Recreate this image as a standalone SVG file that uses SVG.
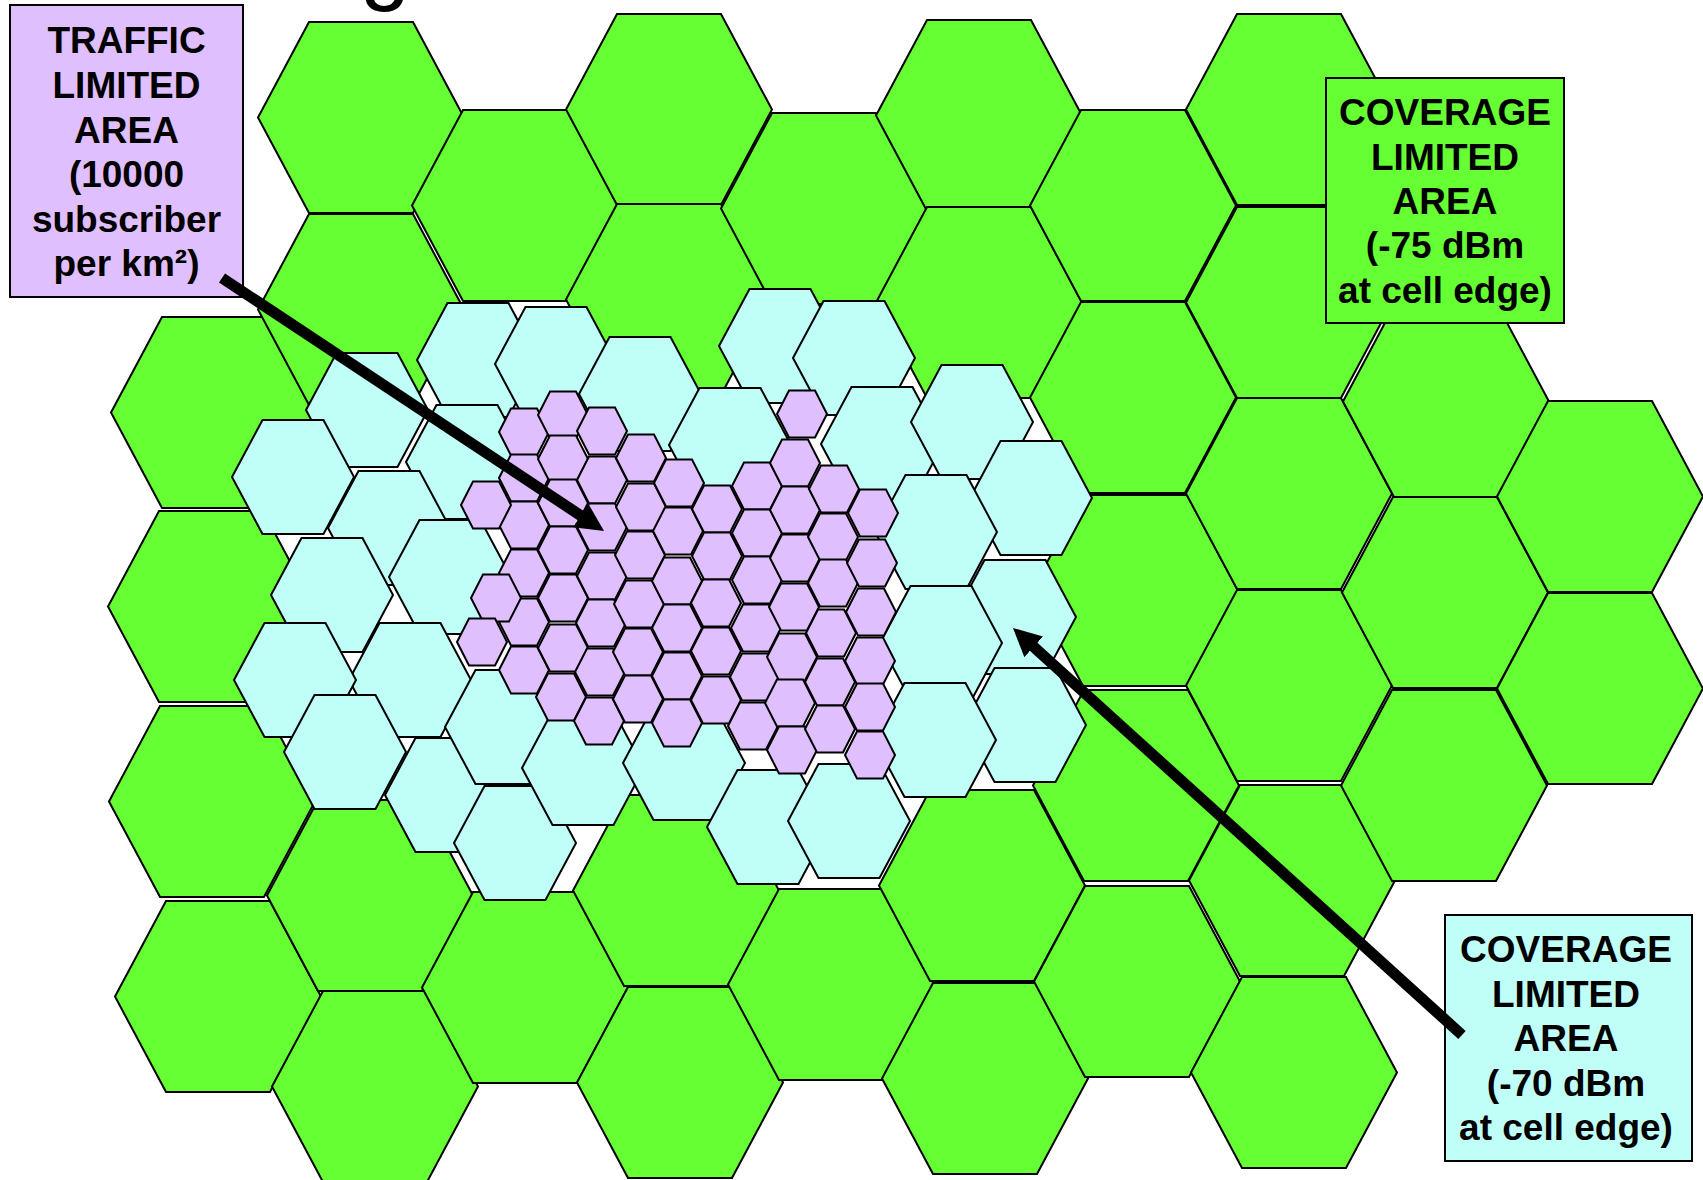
<svg xmlns="http://www.w3.org/2000/svg" width="1703" height="1180" viewBox="0 0 1703 1180">
<style>
.hg{fill:#66FF33;stroke:#000;stroke-width:2;stroke-linejoin:miter}
.hc{fill:#BFFFF8;stroke:#000;stroke-width:2;stroke-linejoin:miter}
.hp{fill:#E0BFFF;stroke:#000;stroke-width:2;stroke-linejoin:miter}
.box{stroke:#000;stroke-width:2}
.lbl{font-family:"Liberation Sans",Arial,sans-serif;font-weight:bold;font-size:37px;text-anchor:middle;fill:#000}
.arrow{stroke:#000;stroke-width:11;fill:none;stroke-linecap:butt}
</style>
<defs>
<polygon id="G" class="hg" points="-103,0 -52,-95.5 52,-95.5 103,0 52,95.5 -52,95.5"/>
<polygon id="C" class="hc" points="-61,0 -30.5,-57 30.5,-57 61,0 30.5,57 -30.5,57"/>
<polygon id="P" class="hp" points="-25,0 -13,-23.5 13,-23.5 25,0 13,23.5 -13,23.5"/>
<marker id="ah" markerUnits="userSpaceOnUse" markerWidth="30" markerHeight="28" refX="6" refY="14" orient="auto">
<path d="M0,0 L28,14 L0,28 z" fill="#000"/>
</marker>
</defs>
<rect width="1703" height="1180" fill="#fff"/>
<text x="360" y="-7" font-family="Liberation Sans, Arial, sans-serif" font-size="90" fill="#000">g</text>
<g id="green-cells">
<use href="#G" x="214" y="412.5"/><use href="#G" x="211" y="606.5"/><use href="#G" x="212" y="801.5"/><use href="#G" x="218" y="996.5"/>
<use href="#G" x="361" y="117.5"/><use href="#G" x="361" y="309.5"/><use href="#G" x="370" y="895.5"/><use href="#G" x="375" y="1086.5"/>
<use href="#G" x="515" y="205.5"/><use href="#G" x="525" y="987.5"/>
<use href="#G" x="669" y="109.5"/><use href="#G" x="669" y="299.5"/><use href="#G" x="676" y="890.5"/><use href="#G" x="680" y="1082.5"/>
<use href="#G" x="824" y="208.5"/><use href="#G" x="831" y="984.5"/>
<use href="#G" x="979" y="115.5"/><use href="#G" x="979" y="302.5"/><use href="#G" x="982" y="885.5"/><use href="#G" x="985" y="1078.5"/>
<use href="#G" x="1133" y="205.5"/><use href="#G" x="1133" y="397.5"/><use href="#G" x="1135" y="590.5"/><use href="#G" x="1136" y="785.5"/><use href="#G" x="1137" y="981.5"/>
<use href="#G" x="1289" y="109.5"/><use href="#G" x="1289" y="302.5"/><use href="#G" x="1289" y="493.5"/><use href="#G" x="1289" y="685.5"/><use href="#G" x="1292" y="880.5"/><use href="#G" x="1294" y="1072.5"/>
<use href="#G" x="1446" y="401.5"/><use href="#G" x="1445" y="592.5"/><use href="#G" x="1444" y="785.5"/>
<use href="#G" x="1600" y="496.5"/><use href="#G" x="1600" y="688.5"/>
</g>
<g id="cyan-cells">
<use href="#C" x="367" y="410"/><use href="#C" x="478" y="360"/><use href="#C" x="556" y="364"/><use href="#C" x="640" y="394"/>
<use href="#C" x="780" y="346"/><use href="#C" x="854" y="358"/><use href="#C" x="730" y="445"/><use href="#C" x="882" y="444"/>
<use href="#C" x="972" y="422"/><use href="#C" x="467" y="462"/><use href="#C" x="293" y="477"/><use href="#C" x="389" y="528"/>
<use href="#C" x="450" y="577"/><use href="#C" x="332" y="595"/><use href="#C" x="410" y="680"/><use href="#C" x="295" y="680"/>
<use href="#C" x="1031" y="498"/><use href="#C" x="936" y="532"/><use href="#C" x="1015" y="617"/><use href="#C" x="941" y="643"/>
<use href="#C" x="1025" y="725"/><use href="#C" x="935" y="740"/><use href="#C" x="345" y="752"/><use href="#C" x="446" y="795"/>
<use href="#C" x="506" y="727"/><use href="#C" x="515" y="843"/><use href="#C" x="583" y="768"/><use href="#C" x="684" y="763"/>
<use href="#C" x="768" y="827"/><use href="#C" x="849" y="821"/>
</g>
<g id="purple-cells">
<use href="#P" x="524" y="432"/><use href="#P" x="524" y="478"/><use href="#P" x="524" y="525"/><use href="#P" x="524" y="573"/><use href="#P" x="524" y="622"/><use href="#P" x="524" y="670"/>
<use href="#P" x="563" y="415"/><use href="#P" x="563" y="459"/><use href="#P" x="563" y="503"/><use href="#P" x="563" y="550"/><use href="#P" x="563" y="598"/><use href="#P" x="563" y="648"/><use href="#P" x="561" y="697"/>
<use href="#P" x="602" y="431"/><use href="#P" x="602" y="480"/><use href="#P" x="602" y="527"/><use href="#P" x="602" y="576"/><use href="#P" x="601" y="623"/><use href="#P" x="600" y="672"/><use href="#P" x="599" y="721"/>
<use href="#P" x="641" y="458"/><use href="#P" x="641" y="507"/><use href="#P" x="640" y="555"/><use href="#P" x="639" y="604"/><use href="#P" x="638" y="652"/><use href="#P" x="638" y="699"/>
<use href="#P" x="679" y="483"/><use href="#P" x="678" y="531"/><use href="#P" x="677" y="581"/><use href="#P" x="677" y="628"/><use href="#P" x="677" y="676"/><use href="#P" x="677" y="723"/>
<use href="#P" x="717" y="509"/><use href="#P" x="717" y="556"/><use href="#P" x="716" y="603"/><use href="#P" x="716" y="651"/><use href="#P" x="716" y="700"/>
<use href="#P" x="757" y="486"/><use href="#P" x="757" y="533"/><use href="#P" x="757" y="580"/><use href="#P" x="756" y="628"/><use href="#P" x="755" y="677"/><use href="#P" x="753" y="726"/>
<use href="#P" x="802" y="414"/><use href="#P" x="795" y="463"/><use href="#P" x="795" y="510"/><use href="#P" x="795" y="558"/><use href="#P" x="794" y="607"/><use href="#P" x="792" y="657"/><use href="#P" x="790" y="703"/><use href="#P" x="792" y="750"/>
<use href="#P" x="834" y="489"/><use href="#P" x="833" y="537"/><use href="#P" x="833" y="583"/><use href="#P" x="831" y="633"/><use href="#P" x="830" y="682"/><use href="#P" x="830" y="729"/>
<use href="#P" x="873" y="513"/><use href="#P" x="872" y="563"/><use href="#P" x="871" y="612"/><use href="#P" x="870" y="661"/><use href="#P" x="870" y="707"/><use href="#P" x="870" y="755"/>
<use href="#P" x="486" y="505"/><use href="#P" x="496" y="598"/><use href="#P" x="482" y="642"/>
</g>
<g id="traffic-box">
<rect class="box" x="10" y="5" width="233" height="292" fill="#E0BFFF"/>
<text class="lbl" x="126.5" y="53">TRAFFIC</text>
<text class="lbl" x="126.5" y="98">LIMITED</text>
<text class="lbl" x="126.5" y="143">AREA</text>
<text class="lbl" x="126.5" y="187">(10000</text>
<text class="lbl" x="126.5" y="232">subscriber</text>
<text class="lbl" x="126.5" y="276">per km²)</text>
</g>
<g id="coverage75-box">
<rect class="box" x="1326" y="78" width="238" height="245" fill="#66FF33"/>
<text class="lbl" x="1445" y="125">COVERAGE</text>
<text class="lbl" x="1445" y="170">LIMITED</text>
<text class="lbl" x="1445" y="214">AREA</text>
<text class="lbl" x="1445" y="258">(-75 dBm</text>
<text class="lbl" x="1445" y="303">at cell edge)</text>
</g>
<g id="coverage70-box">
<rect class="box" x="1445" y="915" width="247" height="246" fill="#BFFFF8"/>
<text class="lbl" x="1566" y="962">COVERAGE</text>
<text class="lbl" x="1566" y="1007">LIMITED</text>
<text class="lbl" x="1566" y="1051">AREA</text>
<text class="lbl" x="1566" y="1096">(-70 dBm</text>
<text class="lbl" x="1566" y="1140">at cell edge)</text>
</g>
<g id="connectors">
<line class="arrow" x1="222" y1="278" x2="585.7" y2="518.9" marker-end="url(#ah)"/>
<line class="arrow" x1="1462" y1="1035" x2="1029.3" y2="642.8" marker-end="url(#ah)"/>
</g>
</svg>
